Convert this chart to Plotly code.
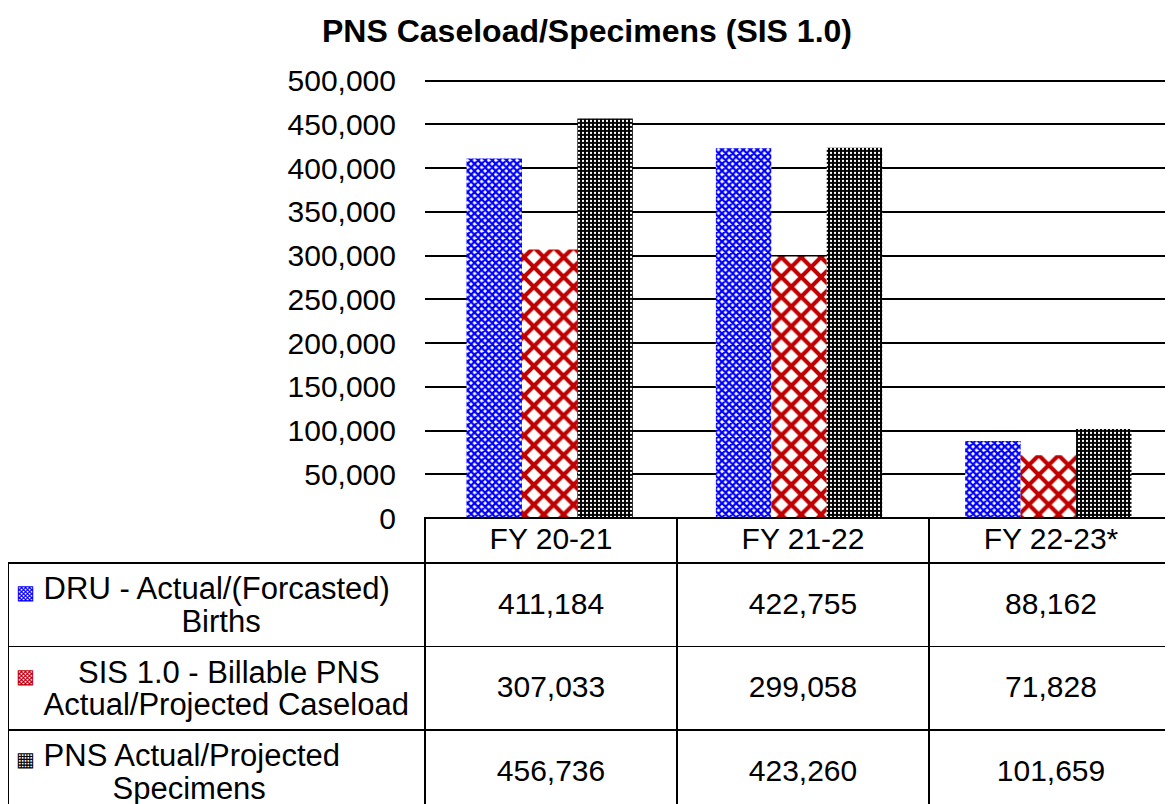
import plotly.graph_objects as go

categories = ["FY 20-21", "FY 21-22", "FY 22-23*"]
series_lines = [["DRU - Actual/(Forcasted)", "Births"],
                ["SIS 1.0 - Billable PNS", "Actual/Projected Caseload"],
                ["PNS Actual/Projected", "Specimens"]]
dru_births = [411184, 422755, 88162]
sis_caseload = [307033, 299058, 71828]
pns_specimens = [456736, 423260, 101659]
y_ticks = [0, 50000, 100000, 150000, 200000, 250000, 300000, 350000, 400000, 450000, 500000]

FONT = "Liberation Sans, Arial, sans-serif"

# page body has an 8px margin: figure sized to the visible viewport
W, H = 1165, 796

fig = go.Figure()
fig.add_trace(go.Bar(
    x=categories, y=dru_births, name="DRU",
    marker=dict(color="#0000FF", line=dict(width=0),
                pattern=dict(shape="x", size=5, solidity=0.7, fgcolor="#0000FF",
                             bgcolor="white", fillmode="replace")),
))
fig.add_trace(go.Bar(
    x=categories, y=sis_caseload, name="SIS",
    marker=dict(color="#C00000", line=dict(width=0),
                pattern=dict(shape="x", size=14, solidity=0.5, fgcolor="#C00000",
                             bgcolor="white", fillmode="replace")),
))
fig.add_trace(go.Bar(
    x=categories, y=pns_specimens, name="PNS",
    marker=dict(color="black", line=dict(width=0),
                pattern=dict(shape=".", size=4, solidity=0.25, fgcolor="white",
                             bgcolor="black", fillmode="replace")),
))

icon_chars = ["▩", "▩", "▦"]
icon_sizes = [20, 20, 20]
icon_colors = ["#0000FF", "#C00000", "black"]
pad_counts = [(0, 16), (4, 0), (0, 8)]   # leading no-break spaces for line 1 / line 2

def span(txt, size, color=None):
    st = f"font-size:{size}px"
    if color:
        st += f";color:{color}"
    return f"<span style='{st}'>{txt}</span>"

labels = []
for i, (l1, l2) in enumerate(series_lines):
    p1, p2 = pad_counts[i]
    icon = span(icon_chars[i], icon_sizes[i], icon_colors[i])
    ghost = span(icon_chars[i], icon_sizes[i], "rgba(0,0,0,0)")
    line1 = icon + span("\u00a0" * (1 + p1) + l1, 31)
    line2 = ghost + span("\u00a0" * (1 + p2) + l2, 31)
    labels.append(line1 + "<br>" + line2)

def num_cell(v):
    return span("\u00a0", 30) + "<br>" + span(f"{v:,}", 30)

col_vals = [labels] + [[num_cell(dru_births[j]), num_cell(sis_caseload[j]), num_cell(pns_specimens[j])]
                       for j in range(3)]

fig.add_trace(go.Table(
    domain=dict(x=[0, 1.0], y=[0, 286 / H]),
    columnwidth=[417, 252, 252, 244],
    header=dict(values=[""] + categories,
                line=dict(color=["rgba(0,0,0,0)", "black", "black", "black"], width=1.5),
                fill=dict(color=["rgba(0,0,0,0)", "white", "white", "white"]),
                align="center", height=45,
                font=dict(family=FONT, size=30, color="black")),
    cells=dict(values=col_vals,
               line=dict(color="black", width=1.5),
               fill=dict(color="white"),
               align=["left", "center", "center", "center"], height=82,
               font=dict(family=FONT, size=[25, 12, 12, 12], color="black")),
))

fig.update_layout(
    width=W, height=H,
    margin=dict(l=0, r=0, t=0, b=0),
    paper_bgcolor="white", plot_bgcolor="white",
    barmode="group", bargap=0.333, bargroupgap=0,
    showlegend=False,
    title=dict(text="<b>PNS Caseload/Specimens (SIS 1.0)</b>", x=579 / W, xanchor="center",
               y=1 - 23 / H, yanchor="middle",
               font=dict(family=FONT, size=32, color="black")),
    font=dict(family=FONT, size=30, color="black"),
    xaxis=dict(domain=[417 / W, 1.0], showticklabels=False, showgrid=False,
               zeroline=False, showline=False, fixedrange=True, automargin=False),
    yaxis=dict(domain=[286 / H, 725 / H], range=[0, 502000],
               tickvals=y_ticks, tickformat=",", showgrid=True,
               gridcolor="black", gridwidth=1.5, zeroline=False, showline=False,
               ticks="", ticklabelstandoff=28, automargin=False,
               tickfont=dict(family=FONT, size=30, color="black")),
)

fig.write_html("out.html")
